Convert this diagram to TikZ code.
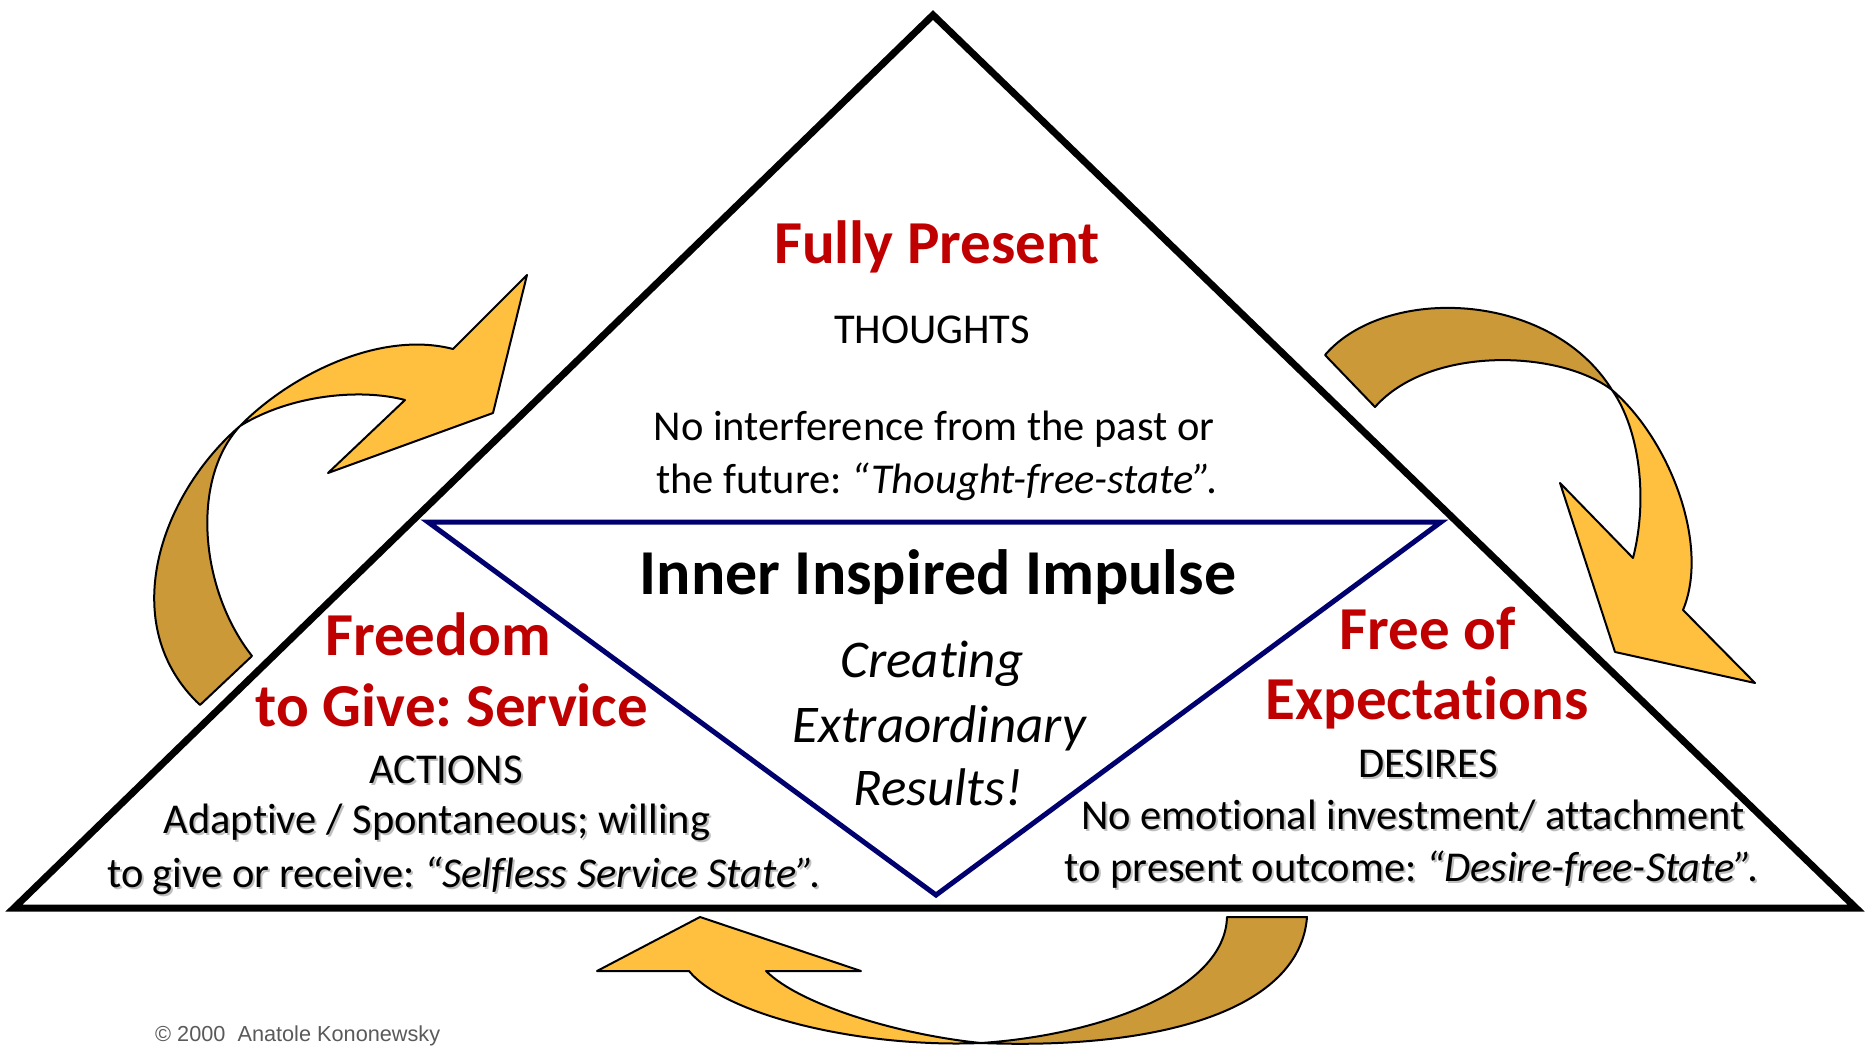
\documentclass[tikz,border=0pt]{standalone}
\usepackage{fontspec}
\setmainfont{Carlito}[Ligatures=NoCommon]
\newfontfamily\arialf{Liberation Sans}
\definecolor{hred}{RGB}{192,0,0}
\definecolor{navyc}{RGB}{0,0,110}
\definecolor{goldc}{RGB}{255,192,64}
\definecolor{darkgold}{RGB}{204,153,56}
\definecolor{copyc}{RGB}{90,90,90}
\frenchspacing
\begin{document}
\begin{tikzpicture}[x=1pt,y=-1pt,
  heading/.style={font=\fontsize{61}{72}\selectfont\bfseries, text=hred, anchor=base, inner sep=0pt},
  titlebig/.style={font=\fontsize{64}{76}\selectfont\bfseries, text=black, anchor=base, inner sep=0pt},
  body/.style={font=\fontsize{42.5}{50}\selectfont, text=black, anchor=base, inner sep=0pt},
  shadowbody/.style={body, text=black!55, opacity=0.45, xshift=2pt, yshift=-2.5pt},
  itbody/.style={font=\fontsize{53}{60}\selectfont\itshape, text=black, anchor=base, inner sep=0pt},
  outer/.style={draw=black, line width=7pt, line join=miter},
  inner/.style={draw=navyc, line width=5pt, line join=miter},
  lightpart/.style={fill=goldc, draw=black, line width=2pt, line join=round},
  darkpart/.style={fill=darkgold, draw=black, line width=2pt, line join=round}
]
\useasboundingbox (0,0) rectangle (1866,1046);
\fill[white] (0,0) rectangle (1866,1046);

% main triangle
\coordinate (apex) at (933,15);
\coordinate (bl) at (14,908);
\coordinate (br) at (1856,908);
\draw[outer] (apex) -- (br) -- (bl) -- cycle;

% inner inverted triangle
\coordinate (itl) at (428,522);
\coordinate (itr) at (1441,522);
\coordinate (ibot) at (936,895);
\draw[inner] (itl) -- (itr) -- (ibot) -- cycle;

% left curved arrow
\coordinate (lc) at (240,426);
\draw[darkpart] (lc) .. controls (160,495) and (115,625) .. (200,705)
  -- (252,656) .. controls (200,590) and (190,480) .. (lc) -- cycle;
\draw[lightpart] (lc) .. controls (290,375) and (380,330) .. (453,349)
  -- (527,275) -- (493,413) -- (328,473) -- (405,400)
  .. controls (360,388) and (290,395) .. (lc) -- cycle;

% right curved arrow
\coordinate (rc) at (1612,390);
\draw[darkpart] (1325,355) .. controls (1385,285) and (1550,290) .. (rc)
  .. controls (1560,350) and (1430,345) .. (1375,407) -- cycle;
\draw[lightpart] (rc) .. controls (1670,440) and (1710,545) .. (1683,610)
  -- (1755,683) -- (1615,652) -- (1560,483) -- (1633,558)
  .. controls (1648,500) and (1640,430) .. (rc) -- cycle;

% bottom curved arrow
\coordinate (bc) at (981,1043);
\draw[darkpart] (1227,917) -- (1307,917) .. controls (1300,1010) and (1160,1050) .. (bc)
  .. controls (1100,1035) and (1225,990) .. (1227,917) -- cycle;
\draw[lightpart] (bc) .. controls (860,1048) and (725,1015) .. (689,971)
  -- (597,971) -- (700,917) -- (861,971) -- (766,971)
  .. controls (800,1005) and (900,1035) .. (bc) -- cycle;

% top section
\node[heading] (fp) at (937,263) {Fully Present};
\node[body] (th) at (932,343) {THOUGHTS};
\node[body] (nl1) at (934,440) {No interference from the past or};
\node[body] (nl2) at (937,493) {the future: \textit{“Thought-free-state”.}};

% centre
\node[titlebig] (iii) at (938,594) {Inner Inspired Impulse};
\node[itbody] (cr1) at (932,677) {Creating};
\node[itbody] (cr2) at (939,742) {Extraordinary};
\node[itbody] (cr3) at (938,805) {Results!};

% left section
\node[heading] (fr1) at (438,655) {Freedom};
\node[heading] (fr2) at (452,726) {to Give: Service};
\node[shadowbody] (acts) at (446,783) {ACTIONS};
\node[body] (act) at (446,783) {ACTIONS};
\node[shadowbody] (ad1s) at (437,833) {Adaptive / Spontaneous; willing};
\node[body] (ad1) at (437,833) {Adaptive / Spontaneous; willing};
\node[shadowbody] (ad2s) at (464,887) {to give or receive: \textit{“Selfless Service State”.}};
\node[body] (ad2) at (464,887) {to give or receive: \textit{“Selfless Service State”.}};

% right section
\node[heading] (fe1) at (1428,649) {Free of};
\node[heading] (fe2) at (1427,719) {Expectations};
\node[shadowbody] (dess) at (1428,777) {DESIRES};
\node[body] (des) at (1428,777) {DESIRES};
\node[shadowbody] (ne1s) at (1413,829) {No emotional investment/ attachment};
\node[body] (ne1) at (1413,829) {No emotional investment/ attachment};
\node[shadowbody] (ne2s) at (1412,881) {to present outcome: \textit{“Desire-free-State”.}};
\node[body] (ne2) at (1412,881) {to present outcome: \textit{“Desire-free-State”.}};

% copyright
\node[anchor=base west, inner sep=0pt, text=copyc, font=\arialf\fontsize{21.7}{26}\selectfont] (copy) at (155,1041) {© 2000\ \ Anatole Kononewsky};
\end{tikzpicture}
\end{document}
